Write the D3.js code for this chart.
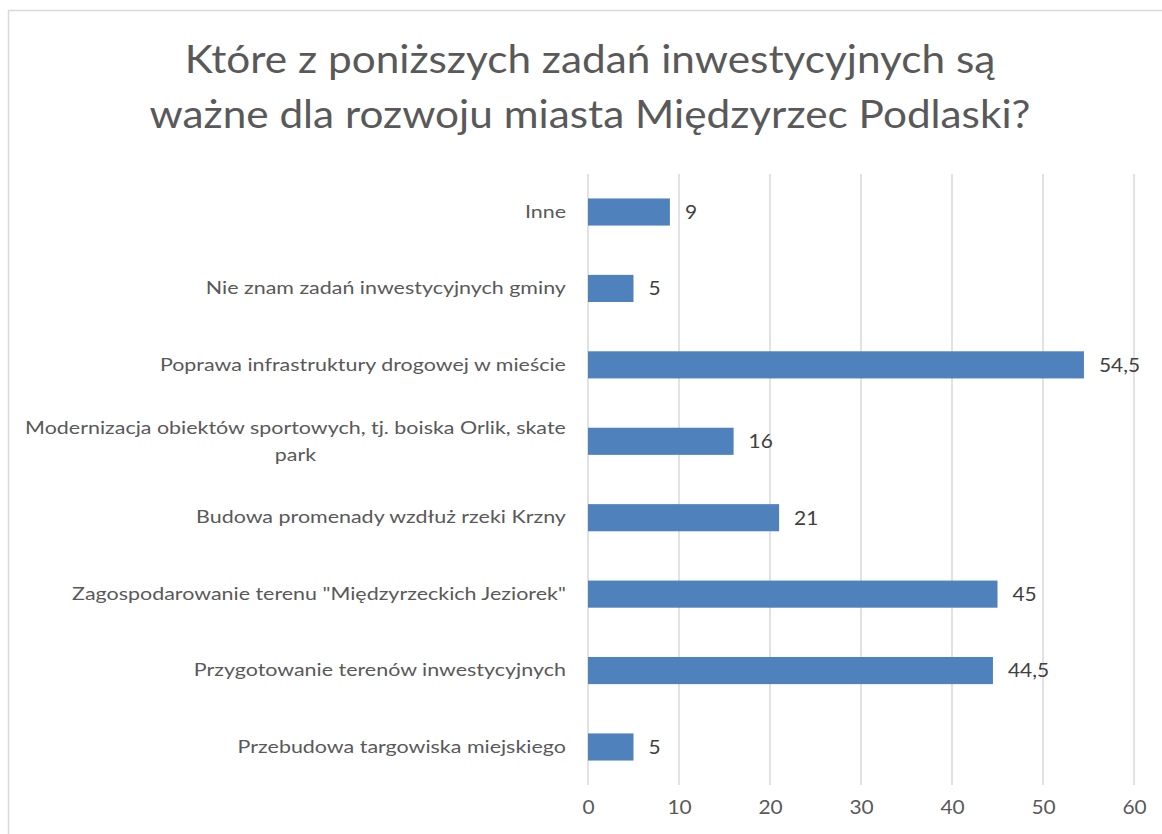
<!DOCTYPE html>
<meta charset="utf-8">
<head>
<style>
  body { margin: 0; background: white; font-family: Lato, sans-serif; }
  svg { display: block; }
</style>
<script src="https://cdn.jsdelivr.net/npm/d3@7"></script>
</head>
<body>
<svg id="chart"></svg>
<script>
// data, top to bottom
const categories = [
  "Inne",
  "Nie znam zadań inwestycyjnych gminy",
  "Poprawa infrastruktury drogowej w mieście",
  "Modernizacja obiektów sportowych, tj. boiska Orlik, skate park",
  "Budowa promenady wzdłuż rzeki Krzny",
  "Zagospodarowanie terenu \"Międzyrzeckich Jeziorek\"",
  "Przygotowanie terenów inwestycyjnych",
  "Przebudowa targowiska miejskiego"
]
const values = [9, 5, 54.5, 16, 21, 45, 44.5, 5]
const xTicks = [0, 10, 20, 30, 40, 50, 60]
const titleLines = [
  "Które z poniższych zadań inwestycyjnych są",
  "ważne dla rozwoju miasta Międzyrzec Podlaski?"
]

const width = 1162, height = 834
const margin = {top: 174, right: 28, bottom: 49, left: 588}

// the original text is drawn wide, so text gets a horizontal stretch
const titleStretch = 1.085, labelStretch = 1.30, numStretch = 1.1

const svg = d3.select("#chart").attr("width", width).attr("height", height)

// chart frame
svg.append("rect")
  .attr("x", 8.5).attr("y", 10.5)
  .attr("width", 1170).attr("height", 840)
  .attr("fill", "white").attr("stroke", "#d9d9d9").attr("stroke-width", 1.5)

svg.append("g").selectAll("g")
  .data(titleLines)
  .enter().append("g")
  .attr("transform", (d, i) => `translate(590,${73 + i * 55}) scale(${titleStretch},1)`)
  .append("text")
  .attr("text-anchor", "middle")
  .attr("fill", "#595959")
  .style("font-size", "39px")
  .text(d => d)

let data = categories.map((c, i) => ({cat: c, val: values[i]}))

let x = d3.scaleLinear().domain([0, 60]).range([margin.left, width - margin.right])
let y = d3.scaleBand().domain(categories).range([margin.top, height - margin.bottom]).paddingInner(0.645).paddingOuter(0.32)

// gridlines
svg.append("g").selectAll("line")
  .data(xTicks)
  .enter().append("line")
  .attr("x1", d => x(d)).attr("x2", d => x(d))
  .attr("y1", margin.top).attr("y2", height - margin.bottom)
  .attr("stroke", "#d9d9d9").attr("stroke-width", 1.5)

// x axis labels
let axisX = d3.axisBottom(x).tickValues(xTicks).tickSize(0).tickPadding(16)
let gx = svg.append("g")
  .attr("transform", `translate(0,${height - margin.bottom})`)
  .call(axisX)
gx.select(".domain").remove()
gx.selectAll("text")
  .attr("fill", "#595959")
  .attr("transform", `scale(${numStretch},1)`)
  .style("font-size", "19px")
  .style("font-family", "Lato, sans-serif")

// bars
svg.append("g").selectAll("rect")
  .data(data)
  .enter().append("rect")
  .attr("x", x(0))
  .attr("y", d => y(d.cat))
  .attr("width", d => x(d.val) - x(0))
  .attr("height", y.bandwidth())
  .attr("fill", "#4f81bd")

// value labels
svg.append("g").selectAll("g")
  .data(data)
  .enter().append("g")
  .attr("transform", d => `translate(${x(d.val) + 15},${y(d.cat) + y.bandwidth() / 2}) scale(${numStretch},1)`)
  .append("text")
  .attr("dy", "0.36em")
  .attr("fill", "#404040")
  .style("font-size", "19px")
  .text(d => String(d.val).replace(".", ","))

// category labels, wrapped and centred like the original
let labels = svg.append("g").selectAll("g")
  .data(data)
  .enter().append("g")
  .attr("transform", d => `translate(0,${y(d.cat) + y.bandwidth() / 2})`)
  .append("text")
  .attr("fill", "#595959")
  .style("font-size", "16.5px")

labels.each(function(d) {
  let t = d3.select(this)
  let measure = s => { let p = t.append("tspan").text(s); let w = p.node().getComputedTextLength() * labelStretch; p.remove(); return w }
  let words = d.cat.split(" ")
  let lines = [], line = []
  words.forEach(w => {
    line.push(w)
    if (measure(line.join(" ")) > 550 && line.length > 1) {
      line.pop()
      lines.push(line.join(" "))
      line = [w]
    }
  })
  lines.push(line.join(" "))
  let maxW = d3.max(lines, measure)
  let cx = (margin.left - 22 - maxW / 2) / labelStretch
  t.attr("transform", `scale(${labelStretch},1)`)
  lines.forEach((l, i) => {
    t.append("tspan")
      .attr("x", cx)
      .attr("text-anchor", "middle")
      .attr("y", (i - (lines.length - 1) / 2) * 27)
      .attr("dy", "0.35em")
      .text(l)
  })
})
</script>
</body>
